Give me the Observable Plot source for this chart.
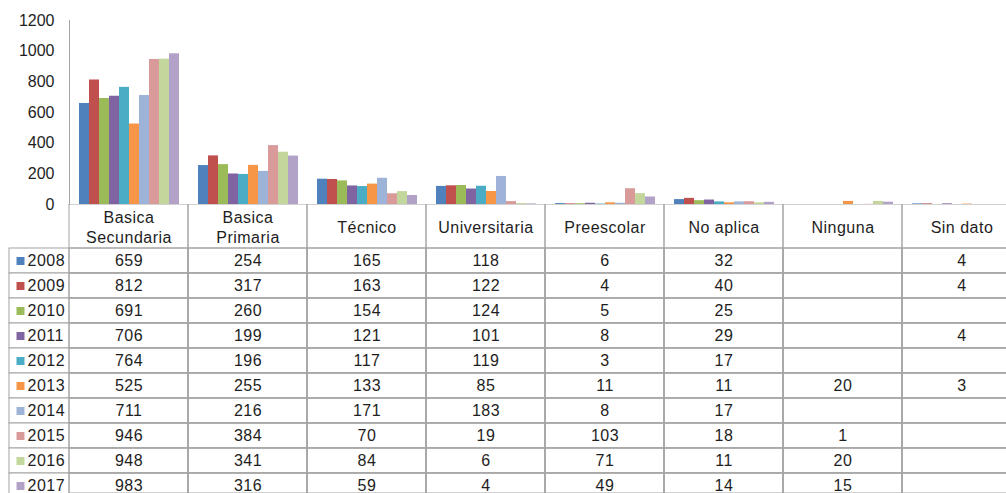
<!DOCTYPE html>
<html><head><meta charset="utf-8">
<script src="https://cdn.jsdelivr.net/npm/d3@7"></script>
<script src="https://cdn.jsdelivr.net/npm/@observablehq/plot@0.6"></script>
<style>
html,body{margin:0;padding:0;background:#fff;overflow:hidden;}
#wrap{position:relative;width:1006px;height:493px;overflow:hidden;font-family:"Liberation Sans",Arial,sans-serif;}
#chart,#table{position:absolute;left:0;}
#chart{top:0;}
#table{top:204px;}
</style></head><body>
<div id="wrap"><div id="chart"></div><div id="table"></div></div>
<script>
const categories = ["Basica Secundaria","Basica Primaria","Técnico","Universitaria","Preescolar","No aplica","Ninguna","Sin dato"];
const headerLabels = ["Basica\nSecundaria","Basica\nPrimaria","Técnico","Universitaria","Preescolar","No aplica","Ninguna","Sin dato"];
const years = ["2008","2009","2010","2011","2012","2013","2014","2015","2016","2017"];
const colors = ["#4F81BD","#C0504D","#9BBB59","#8064A2","#4BACC6","#F79646","#9DB3D8","#D99A9A","#C3D69B","#B3A2C7"];
const yTicks = [0,200,400,600,800,1000,1200];

const v2008 = [659,254,165,118,6,32,null,4];
const v2009 = [812,317,163,122,4,40,null,4];
const v2010 = [691,260,154,124,5,25,null,null];
const v2011 = [706,199,121,101,8,29,null,4];
const v2012 = [764,196,117,119,3,17,null,null];
const v2013 = [525,255,133,85,11,11,20,3];
const v2014 = [711,216,171,183,8,17,null,null];
const v2015 = [946,384,70,19,103,18,1,null];
const v2016 = [948,341,84,6,71,11,20,null];
const v2017 = [983,316,59,4,49,14,15,null];
const seriesValues = [v2008,v2009,v2010,v2011,v2012,v2013,v2014,v2015,v2016,v2017];

const rows = [];
years.forEach((yr, i) => categories.forEach((c, j) => rows.push({year: yr, cat: c, value: seriesValues[i][j]})));
const filled = rows.filter(d => d.value != null);
const header = categories.map((c, i) => ({cat: c, label: headerLabels[i]}));

const gridColor = "#a3a3a3";
const textColor = "#1e1e1e";
const colorScale = {domain: years, range: colors};
const baseStyle = {fontFamily: "'Liberation Sans', Arial, sans-serif", fontSize: "16px", background: "transparent", color: textColor, overflow: "hidden"};

const chart = Plot.plot({
  width: 1006, height: 216,
  marginTop: 20, marginBottom: 12, marginLeft: 69, marginRight: 0,
  style: baseStyle,
  fx: {domain: categories, range: [69, 1021], padding: 0, axis: null, label: null},
  x: {domain: years, paddingInner: 0, paddingOuter: 0.72, axis: null},
  y: {domain: [0, 1200], axis: null},
  color: colorScale,
  marks: [
    Plot.barY(filled, {fx: "cat", x: "year", y: "value", fill: "year"}),
    Plot.axisY({ticks: yTicks, tickFormat: d => String(d), tickSize: 0, tickPadding: 15, label: null, fontSize: 16, fill: textColor}),
    Plot.frame({anchor: "left", facetAnchor: "left", stroke: gridColor})
  ]
});
document.getElementById("chart").appendChild(chart);

const table = Plot.plot({
  width: 1006, height: 289,
  marginTop: 44, marginLeft: 69, marginRight: 0, marginBottom: 0,
  style: {...baseStyle, letterSpacing: "0.5px"},
  x: {domain: categories, range: [69, 1021], padding: 0, axis: null},
  y: {domain: years, range: [44, 294], padding: 0, axis: null},
  color: colorScale,
  marks: [
    Plot.cell(years, {y: d => d, insetLeft: -60, insetRight: -20, stroke: gridColor, fill: "white"}),
    Plot.cell(categories, {x: d => d, insetTop: -44, stroke: gridColor, fill: "none"}),
    Plot.cell(rows, {x: "cat", y: "year", stroke: gridColor, fill: "none"}),
    Plot.text(header, {x: "cat", frameAnchor: "top", dy: -22, lineAnchor: "middle", text: "label", lineHeight: 1.25, fill: textColor, fontSize: 16}),
    Plot.text(filled, {x: "cat", y: "year", text: "value", fill: textColor, fontSize: 16}),
    Plot.dot(years, {y: d => d, frameAnchor: "left", dx: -49, symbol: "square", r: 4.5, fill: d => d}),
    Plot.text(years, {y: d => d, frameAnchor: "left", dx: -42, textAnchor: "start", text: d => d, fill: textColor, fontSize: 16})
  ]
});
document.getElementById("table").appendChild(table);
</script>
</body></html>
